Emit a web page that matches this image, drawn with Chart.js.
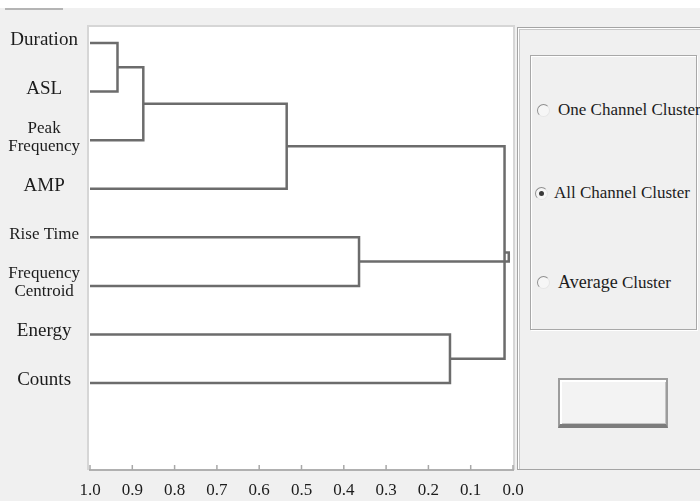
<!DOCTYPE html>
<html>
<head>
<meta charset="utf-8">
<script src="https://cdn.jsdelivr.net/npm/chart.js@4/dist/chart.umd.min.js"></script>
<style>
  html, body { margin:0; padding:0; background:#f0f0f0; }
  #wrap { position:relative; width:700px; height:501px; overflow:hidden; background:#f0f0f0; }
  #c { position:absolute; left:0; top:0; }
  .abs { position:absolute; }
  .lbl { position:absolute; font-family:"Liberation Serif","DejaVu Serif",serif; font-size:17px; color:#1c1c1c; white-space:nowrap; line-height:20px; }
  .radio { position:absolute; width:11px; height:11px; border-radius:50%;
           border:1px solid; border-color:#8f8f8f #e6e6e6 #e6e6e6 #8f8f8f; background:#f6f6f6; }
  .radio.on::after { content:""; position:absolute; left:3px; top:3px; width:5px; height:5px; border-radius:50%; background:#3a3a3a; }
</style>
</head>
<body>
<div id="wrap">
  <div class="abs" style="left:0;top:0;width:700px;height:8px;background:#fff"></div>
  <div class="abs" style="left:5px;top:8px;width:58px;height:2px;background:#b4b4b4"></div>
  <canvas id="c" width="700" height="501"></canvas>

  <!-- right control panel -->
  <div class="abs" style="left:517px;top:27px;width:200px;height:441px;border:1px solid #a4a4a4;box-shadow:inset 1px 1px 0 #ffffff, inset 2px 2px 0 #c8c8c8;background:#f0f0f0"></div>
  <div class="abs" style="left:530px;top:55px;width:165px;height:273px;border:1px solid #a8a8a8;box-shadow:1px 1px 0 #ffffff, inset 1px 1px 0 #ffffff;background:#f0f0f0"></div>

  <div class="radio" style="left:537px;top:104px"></div>
  <div class="lbl" style="left:558px;top:100px">One Channel Cluster</div>
  <div class="radio on" style="left:535px;top:187px"></div>
  <div class="lbl" style="left:554px;top:183px">All Channel Cluster</div>
  <div class="radio" style="left:537px;top:276px"></div>
  <div class="lbl" style="left:558px;top:272px"><span style="font-size:18px">Average</span> Cluster</div>

  <div class="abs" style="left:558px;top:378px;width:106px;height:44px;border:2px solid #9c9c9c;border-bottom:4px solid #7c7c7c;background:#f3f3f3;box-shadow:inset 2px 2px 0 #ffffff, inset -1px -1px 0 #c4c4c4"></div>
</div>

<script>
// ---- data ----
const categories = ['Duration', 'ASL', ['Peak', 'Frequency'], 'AMP', 'Rise Time', ['Frequency', 'Centroid'], 'Energy', 'Counts'];
const mergeLeft   = [0, 8, 9, 4, 6, 10, 13];
const mergeRight  = [1, 2, 3, 5, 7, 12, 11];
const mergeHeight = [0.935, 0.874, 0.535, 0.364, 0.149, 0.020, 0.010];
const xTicks = [1.0, 0.9, 0.8, 0.7, 0.6, 0.5, 0.4, 0.3, 0.2, 0.1, 0.0];

// ---- build dendrogram links ----
const nodePos = categories.map((_, i) => i);
const nodeHeight = categories.map(() => 1.0);
const datasets = [];
mergeLeft.forEach((a, k) => {
  const b = mergeRight[k], h = mergeHeight[k];
  datasets.push({
    data: [
      { x: nodeHeight[a], y: nodePos[a] },
      { x: h, y: nodePos[a] },
      { x: h, y: nodePos[b] },
      { x: nodeHeight[b], y: nodePos[b] }
    ],
    showLine: true, pointRadius: 0, borderColor: '#6c6c6c', borderWidth: 2.5,
    tension: 0, clip: false
  });
  nodePos.push((nodePos[a] + nodePos[b]) / 2);
  nodeHeight.push(h);
});

const serif = '"Liberation Serif", "DejaVu Serif", serif';

const plotFrame = {
  id: 'plotFrame',
  beforeDraw(chart) {
    const { ctx, chartArea: ca } = chart;
    ctx.save();
    ctx.fillStyle = '#ffffff';
    ctx.fillRect(88, ca.top - 1, 425, ca.bottom - ca.top + 1);
    ctx.strokeStyle = '#d6d6d6';
    ctx.lineWidth = 2;
    ctx.beginPath();
    ctx.moveTo(88, ca.bottom); ctx.lineTo(88, ca.top - 1); ctx.lineTo(514, ca.top - 1); ctx.lineTo(514, ca.bottom);
    ctx.stroke();
    ctx.restore();
  },
  afterDraw(chart) {
    const { ctx, chartArea: ca } = chart;
    const xs = chart.scales.x;
    ctx.save();
    ctx.strokeStyle = '#a8a8a8';
    ctx.lineWidth = 1.5;
    xs.ticks.forEach(t => {
      const px = xs.getPixelForValue(t.value);
      ctx.beginPath();
      ctx.moveTo(px, ca.bottom);
      ctx.lineTo(px, ca.bottom - 5);
      ctx.stroke();
    });
    ctx.restore();
  }
};

new Chart(document.getElementById('c'), {
  type: 'scatter',
  data: { datasets },
  plugins: [plotFrame],
  options: {
    responsive: false,
    animation: false,
    layout: { padding: { top: 27, right: 187, left: 0, bottom: 0 } },
    plugins: { legend: { display: false }, tooltip: { enabled: false } },
    scales: {
      x: {
        type: 'linear', position: 'bottom', reverse: true, min: 0, max: 1,
        afterBuildTicks: s => { s.ticks = xTicks.map(v => ({ value: v })); },
        afterFit: s => { s.height = 31; },
        grid: { display: false, drawTicks: false },
        border: { display: true, color: '#b0b0b0', width: 2 },
        ticks: { autoSkip: false, maxRotation: 0, padding: 10, color: '#1c1c1c',
                 font: { family: serif, size: 17 },
                 callback: v => Number(v).toFixed(1) }
      },
      y: {
        type: 'linear', position: 'left', reverse: true, min: -0.33, max: 8.79,
        afterBuildTicks: s => { s.ticks = categories.map((_, i) => ({ value: i })); },
        afterFit: s => { s.width = 90; },
        grid: { display: false, drawTicks: false },
        border: { display: false },
        ticks: {
          autoSkip: false, crossAlign: 'center', padding: 10, labelOffset: -3, color: '#1c1c1c',
          font: ctx => {
            const lab = categories[ctx.index];
            return (Array.isArray(lab) || ctx.index === 4)
              ? { family: serif, size: 17, lineHeight: 1.06 }
              : { family: serif, size: 19 };
          },
          callback: (v, i) => categories[i]
        }
      }
    }
  }
});
</script>
</body>
</html>
